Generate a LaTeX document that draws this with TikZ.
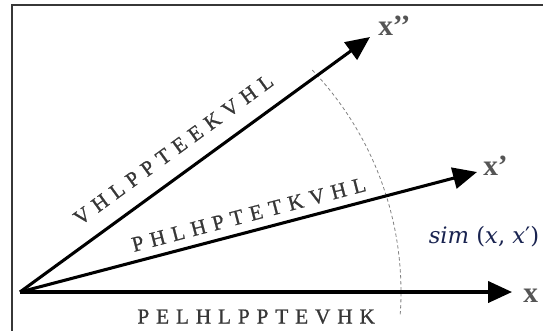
\documentclass[tikz,border=0pt]{standalone}
\usepackage{fontspec}
\setmainfont{Liberation Serif}
\newfontfamily\simfont{DejaVu Serif}
\usetikzlibrary{arrows.meta}
\definecolor{mygray}{RGB}{55,55,55}
\definecolor{mynavy}{RGB}{25,35,80}
\definecolor{myframe}{RGB}{55,55,55}

\begin{document}
\begin{tikzpicture}[x=0.75pt,y=-0.75pt,
  vec/.style={line width=2.3pt,-{Triangle[length=18pt,width=16pt]}},
  seq/.style={font=\fontsize{16}{16}\selectfont\addfontfeature{LetterSpace=32,FakeBold=0.8},text=mygray,inner sep=0pt,sloped},
  lbl/.style={font=\fontsize{22}{22}\selectfont\bfseries,text=mygray!85,inner sep=0pt,anchor=base west},
  simarc/.style={gray,line width=0.6pt,dash pattern=on 2.5pt off 2pt}]

\useasboundingbox (0,0) rectangle (543,330);

% frame
\draw[myframe,line width=1.2pt] (12,340) -- (12,5) -- (550,5);

\coordinate (O) at (20,292);
\coordinate (xtip) at (512,292);
\coordinate (xptip) at (477,172);
\coordinate (xpptip) at (370,37);

% similarity arc
\coordinate (C) at (79,292);
\draw[simarc] ([shift={(4:322)}]C) arc[start angle=4,end angle=-44,radius=322];

% vectors with their sequences
\draw[vec] (O) -- (xtip) node[seq,pos=0.48,below=12pt] (sx) {PELHLPPTEVHK};
\draw[vec] (O) -- (xptip) node[seq,pos=0.51,above=6pt] (sxp) {PHLHPTETKVHL};
\draw[vec] (O) -- (xpptip) node[seq,pos=0.48,above=12pt] (sxpp) {VHLPPTEEKVHL};

\node[lbl] (lx) at ([shift={(11,10)}]xtip) {x};
\node[lbl] (lxp) at ([shift={(6,3)}]xptip) {x’};
\node[lbl] (lxpp) at ([shift={(8,-2)}]xpptip) {x’’};

\node[text=mynavy,font=\simfont\fontsize{17}{17}\selectfont] (sim) at (484,237) {\itshape sim \upshape(\itshape x\upshape, \itshape x\upshape′)};

\end{tikzpicture}
\end{document}
